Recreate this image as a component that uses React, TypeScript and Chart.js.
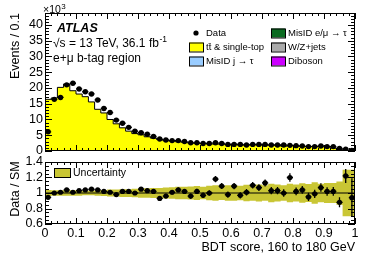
import React, { useEffect, useRef } from "react";
import { Chart, registerables } from "chart.js";

Chart.register(...registerables);

const FONT = '"Liberation Sans", Arial, Helvetica, sans-serif';

// ---------------- data ----------------
const binCenters = [
  0.01, 0.03, 0.05, 0.07, 0.09, 0.11, 0.13, 0.15, 0.17, 0.19,
  0.21, 0.23, 0.25, 0.27, 0.29, 0.31, 0.33, 0.35, 0.37, 0.39,
  0.41, 0.43, 0.45, 0.47, 0.49, 0.51, 0.53, 0.55, 0.57, 0.59,
  0.61, 0.63, 0.65, 0.67, 0.69, 0.71, 0.73, 0.75, 0.77, 0.79,
  0.81, 0.83, 0.85, 0.87, 0.89, 0.91, 0.93, 0.95, 0.97, 0.99,
];
const binWidth = 0.02;

// Events / 0.1, in units of 10^3
const dataEvents = [
  6.1, 16.4, 17.0, 21.0, 21.5, 19.7, 18.8, 18.1, 16.2, 13.5,
  12.2, 9.8, 8.8, 7.5, 6.3, 5.8, 5.3, 4.6, 3.8, 3.5,
  3.3, 3.3, 3.0, 2.6, 2.6, 2.4, 2.4, 2.6, 2.4, 2.1,
  2.1, 2.1, 1.9, 2.1, 2.1, 2.1, 1.9, 1.9, 1.9, 1.8,
  1.7, 1.6, 1.4, 1.4, 1.6, 1.4, 1.4, 0.8, 0.6, 0.15,
];

// Data / SM
const ratioValues = [
  0.944, 1.0, 1.01, 1.04, 1.01, 1.03, 1.04, 1.05, 1.04, 1.02,
  1.01, 0.98, 1.02, 1.02, 1.0, 1.05, 1.03, 1.02, 0.93, 0.96,
  1.01, 1.04, 1.02, 0.96, 1.02, 0.97, 1.0, 1.18, 1.09, 0.98,
  1.09, 0.97, 1.01, 1.1, 1.07, 1.13, 1.03, 1.03, 1.0, 1.2,
  1.02, 1.04, 0.95, 0.99, 1.07, 1.02, 1.02, 0.88, 1.22, 0.94,
];
const ratioErrors = [
  0.012, 0.012, 0.012, 0.012, 0.012, 0.012, 0.013, 0.013, 0.014, 0.015,
  0.016, 0.018, 0.019, 0.02, 0.022, 0.023, 0.024, 0.026, 0.028, 0.029,
  0.03, 0.03, 0.031, 0.033, 0.034, 0.035, 0.036, 0.04, 0.038, 0.04,
  0.04, 0.041, 0.042, 0.043, 0.044, 0.045, 0.046, 0.046, 0.047, 0.055,
  0.05, 0.05, 0.052, 0.053, 0.055, 0.055, 0.056, 0.065, 0.09, 0.25,
];
const bandHalfWidths = [
  0.04, 0.04, 0.035, 0.035, 0.035, 0.035, 0.035, 0.03, 0.03, 0.035,
  0.04, 0.045, 0.045, 0.05, 0.05, 0.055, 0.06, 0.06, 0.065, 0.065,
  0.07, 0.075, 0.08, 0.08, 0.085, 0.09, 0.08, 0.095, 0.1, 0.09,
  0.1, 0.1, 0.095, 0.105, 0.1, 0.11, 0.1, 0.12, 0.11, 0.1,
  0.12, 0.11, 0.125, 0.115, 0.14, 0.12, 0.13, 0.13, 0.15, 0.3,
];

const xTickValues = [0, 0.1, 0.2, 0.3, 0.4, 0.5, 0.6, 0.7, 0.8, 0.9, 1];
const xTickLabels = ["0", "0.1", "0.2", "0.3", "0.4", "0.5", "0.6", "0.7", "0.8", "0.9", "1"];
const mainYTickValues = [0, 5, 10, 15, 20, 25, 30, 35, 40];
const mainYTickLabels = ["0", "5", "10", "15", "20", "25", "30", "35", "40"];
const ratioYTickValues = [0.6, 0.8, 1, 1.2, 1.4];
const ratioYTickLabels = ["0.6", "0.8", "1", "1.2", "1.4"];

const legendEntries = [
  { label: "Data", kind: "marker", color: "#000000" },
  { label: "tt\u0304 & single-top", kind: "box", color: "#ffff00" },
  { label: "MisID j \u2192 \u03c4", kind: "box", color: "#99ccff" },
  { label: "MisID e/\u03bc \u2192 \u03c4", kind: "box", color: "#0b6b21" },
  { label: "W/Z+jets", kind: "box", color: "#aaaaaa" },
  { label: "Diboson", kind: "box", color: "#cc00ff" },
];
const BAND_COLOR = "#c9c634";

// ---------------- derived ----------------
const mcValues = dataEvents.map((d, i) => d / ratioValues[i]);
const stepPts = (vals: number[]) => {
  const pts = vals.map((v, i) => ({ x: binCenters[i] - binWidth / 2, y: v }));
  pts.push({ x: binCenters[vals.length - 1] + binWidth / 2, y: vals[vals.length - 1] });
  return pts;
};

// ---------------- helpers ----------------
function drawInwardTicks(chart: any, xMajor: number[], xMinorStep: number, yMajor: number[], yMinorStep: number, yMin: number, yMax: number) {
  const { ctx, chartArea, scales } = chart;
  const { left, right, top, bottom } = chartArea;
  const xs = scales.x;
  const ys = scales.y;
  ctx.save();
  ctx.strokeStyle = "#000";
  ctx.lineWidth = 1;
  ctx.beginPath();
  const nX = Math.round(1 / xMinorStep);
  for (let k = 0; k <= nX; k++) {
    const v = k * xMinorStep;
    const isMajor = xMajor.some((m) => Math.abs(m - v) < 1e-6);
    const len = isMajor ? 6 : 3;
    const px = Math.round(xs.getPixelForValue(v)) + 0.5;
    ctx.moveTo(px, bottom);
    ctx.lineTo(px, bottom - len);
    ctx.moveTo(px, top);
    ctx.lineTo(px, top + len);
  }
  const nY = Math.round((yMax - yMin) / yMinorStep);
  for (let k = 0; k <= nY; k++) {
    const v = yMin + k * yMinorStep;
    if (v > yMax + 1e-9) break;
    const isMajor = yMajor.some((m) => Math.abs(m - v) < 1e-6);
    const len = isMajor ? 7 : 4;
    const py = Math.round(ys.getPixelForValue(v)) + 0.5;
    ctx.moveTo(left, py);
    ctx.lineTo(left + len, py);
    ctx.moveTo(right, py);
    ctx.lineTo(right - len, py);
  }
  ctx.stroke();
  ctx.strokeRect(left + 0.5, top + 0.5, right - left - 1, bottom - top - 1);
  ctx.restore();
}

function drawErrorBars(chart: any, values: number[], errs: number[]) {
  const { ctx, scales } = chart;
  const xs = scales.x;
  const ys = scales.y;
  ctx.save();
  ctx.strokeStyle = "#000";
  ctx.lineWidth = 1.3;
  ctx.beginPath();
  values.forEach((v, i) => {
    const c = binCenters[i];
    const py = ys.getPixelForValue(v);
    ctx.moveTo(xs.getPixelForValue(c - binWidth / 2), py);
    ctx.lineTo(xs.getPixelForValue(c + binWidth / 2), py);
    ctx.moveTo(xs.getPixelForValue(c), ys.getPixelForValue(v - errs[i]));
    ctx.lineTo(xs.getPixelForValue(c), ys.getPixelForValue(v + errs[i]));
  });
  ctx.stroke();
  ctx.restore();
}

function textWithSup(ctx: any, main: string, sup: string, x: number, y: number, size: number, supSize: number) {
  ctx.font = `${size}px ${FONT}`;
  ctx.fillText(main, x, y);
  const w = ctx.measureText(main).width;
  ctx.font = `${supSize}px ${FONT}`;
  ctx.fillText(sup, x + w + 0.5, y - size * 0.42);
}

const mainDecor = {
  id: "mainDecor",
  afterDatasetsDraw(chart: any) {
    drawErrorBars(chart, dataEvents, dataEvents.map((d, i) => ratioErrors[i] * mcValues[i]));
  },
  afterDraw(chart: any) {
    drawInwardTicks(chart, xTickValues, 0.02, mainYTickValues, 1, 0, 43.8);
    const { ctx, chartArea } = chart;
    ctx.save();
    ctx.fillStyle = "#000";
    ctx.textBaseline = "alphabetic";
    ctx.textAlign = "left";
    // x10^3
    textWithSup(ctx, "\u00d710", "3", 43, 13, 10.5, 8);
    // ATLAS labels
    ctx.font = `bold italic 12.5px ${FONT}`;
    ctx.fillText("ATLAS", 57, 32);
    textWithSup(ctx, "\u221as = 13 TeV, 36.1 fb", "-1", 53, 47, 12, 8.5);
    ctx.font = `12px ${FONT}`;
    ctx.fillText("e+\u03bc b-tag region", 53, 62);
    // y title
    ctx.save();
    ctx.translate(19, chartArea.top);
    ctx.rotate(-Math.PI / 2);
    ctx.textAlign = "right";
    ctx.font = `12.5px ${FONT}`;
    ctx.fillText("Events / 0.1", 0, 0);
    ctx.restore();
    // legend
    const colX = [189, 271];
    const rowY = [33, 47, 61];
    ctx.font = `9.5px ${FONT}`;
    ctx.textBaseline = "middle";
    legendEntries.forEach((e, i) => {
      const cx = colX[Math.floor(i / 3)];
      const cy = rowY[i % 3];
      if (e.kind === "marker") {
        ctx.beginPath();
        ctx.fillStyle = e.color;
        ctx.arc(cx + 7, cy, 2.6, 0, Math.PI * 2);
        ctx.fill();
      } else {
        ctx.fillStyle = e.color;
        ctx.fillRect(cx, cy - 4.5, 14, 9);
        ctx.strokeStyle = "#000";
        ctx.lineWidth = 1;
        ctx.strokeRect(cx + 0.5, cy - 4.5 + 0.5, 14, 9);
      }
      ctx.fillStyle = "#000";
      ctx.fillText(e.label, cx + 17, cy + 0.5);
    });
    ctx.restore();
  },
};

const ratioDecor = {
  id: "ratioDecor",
  afterDatasetsDraw(chart: any) {
    drawErrorBars(chart, ratioValues, ratioErrors);
  },
  afterDraw(chart: any) {
    drawInwardTicks(chart, xTickValues, 0.02, ratioYTickValues, 0.05, 0.6, 1.4);
    const { ctx, chartArea } = chart;
    ctx.save();
    ctx.fillStyle = "#000";
    // y title
    ctx.save();
    ctx.translate(19, (chartArea.top + chartArea.bottom) / 2 - 4);
    ctx.rotate(-Math.PI / 2);
    ctx.textAlign = "center";
    ctx.font = `12.5px ${FONT}`;
    ctx.fillText("Data / SM", 0, 0);
    ctx.restore();
    // x title
    ctx.textAlign = "right";
    ctx.textBaseline = "alphabetic";
    ctx.font = `12.5px ${FONT}`;
    ctx.fillText("BDT score, 160 to 180 GeV", chartArea.right, 251);
    // legend
    ctx.fillStyle = BAND_COLOR;
    ctx.fillRect(54, 168, 16, 9);
    ctx.strokeStyle = "#000";
    ctx.lineWidth = 1;
    ctx.strokeRect(54.5, 168.5, 16, 9);
    ctx.fillStyle = "#000";
    ctx.textAlign = "left";
    ctx.textBaseline = "middle";
    ctx.font = `10.5px ${FONT}`;
    ctx.fillText("Uncertainty", 73, 173);
    ctx.restore();
  },
};

const tickFont = { family: FONT, size: 12.5 };

export default function App() {
  const refA = useRef<HTMLCanvasElement>(null);
  const refB = useRef<HTMLCanvasElement>(null);

  useEffect(() => {
    const mainChart = new Chart(refA.current as HTMLCanvasElement, {
      type: "line",
      data: {
        datasets: [
          {
            label: "Data",
            data: binCenters.map((x, i) => ({ x, y: dataEvents[i] })),
            showLine: false,
            pointRadius: 2.7,
            pointBackgroundColor: "#000",
            pointBorderWidth: 0,
            order: 0,
          } as any,
          {
            label: "tt & single-top",
            data: stepPts(mcValues),
            stepped: "after",
            fill: "origin",
            backgroundColor: "#ffff00",
            borderColor: "#000",
            borderWidth: 1,
            pointRadius: 0,
            order: 1,
          } as any,
        ],
      },
      options: {
        animation: false,
        responsive: false,
        events: [],
        layout: { padding: { left: 0, right: 19, top: 13, bottom: 117 } },
        plugins: { legend: { display: false }, tooltip: { enabled: false } },
        scales: {
          x: { type: "linear", min: 0, max: 1, display: false },
          y: {
            type: "linear",
            min: 0,
            max: 43.8,
            afterFit: (s: any) => {
              s.width = 45;
            },
            afterBuildTicks: (s: any) => {
              s.ticks = mainYTickValues.map((v) => ({ value: v }));
            },
            grid: { display: false, drawTicks: false },
            border: { display: false },
            ticks: {
              font: tickFont,
              color: "#000",
              padding: 2,
              autoSkip: false,
              callback: (_v: any, i: number) => mainYTickLabels[i],
            },
          },
        },
      } as any,
      plugins: [mainDecor],
    });

    const ratioChart = new Chart(refB.current as HTMLCanvasElement, {
      type: "line",
      data: {
        datasets: [
          {
            label: "Data",
            data: binCenters.map((x, i) => ({ x, y: ratioValues[i] })),
            showLine: false,
            pointRadius: 2.6,
            pointBackgroundColor: "#000",
            pointBorderWidth: 0,
            order: 0,
          } as any,
          {
            label: "one",
            data: [
              { x: 0, y: 1 },
              { x: 1, y: 1 },
            ],
            borderColor: "#000",
            borderWidth: 1,
            pointRadius: 0,
            order: 1,
          } as any,
          {
            label: "Uncertainty",
            data: stepPts(bandHalfWidths.map((b) => 1 + b)),
            stepped: "after",
            fill: "+1",
            backgroundColor: BAND_COLOR,
            borderWidth: 0,
            borderColor: "rgba(0,0,0,0)",
            pointRadius: 0,
            order: 2,
          } as any,
          {
            label: "lower",
            data: stepPts(bandHalfWidths.map((b) => 1 - b)),
            stepped: "after",
            fill: false,
            borderWidth: 0,
            borderColor: "rgba(0,0,0,0)",
            pointRadius: 0,
            order: 3,
          } as any,
        ],
      },
      options: {
        animation: false,
        responsive: false,
        events: [],
        layout: { padding: { left: 0, right: 19, top: 162, bottom: 0 } },
        plugins: { legend: { display: false }, tooltip: { enabled: false } },
        scales: {
          x: {
            type: "linear",
            min: 0,
            max: 1,
            afterFit: (s: any) => {
              s.height = 44;
            },
            afterBuildTicks: (s: any) => {
              s.ticks = xTickValues.map((v) => ({ value: v }));
            },
            grid: { display: false, drawTicks: false },
            border: { display: false },
            ticks: {
              font: tickFont,
              color: "#000",
              padding: 2,
              autoSkip: false,
              maxRotation: 0,
              callback: (_v: any, i: number) => xTickLabels[i],
            },
          },
          y: {
            type: "linear",
            min: 0.6,
            max: 1.4,
            afterFit: (s: any) => {
              s.width = 45;
            },
            afterBuildTicks: (s: any) => {
              s.ticks = ratioYTickValues.map((v) => ({ value: v }));
            },
            grid: { display: false, drawTicks: false },
            border: { display: false },
            ticks: {
              font: tickFont,
              color: "#000",
              padding: 2,
              autoSkip: false,
              callback: (_v: any, i: number) => ratioYTickLabels[i],
            },
          },
        },
      } as any,
      plugins: [ratioDecor],
    });

    return () => {
      mainChart.destroy();
      ratioChart.destroy();
    };
  }, []);

  return (
    <div style={{ position: "absolute", left: 0, top: 0, width: 374, height: 268, background: "#fff" }}>
      <canvas ref={refA} width={374} height={268} style={{ position: "absolute", left: 0, top: 0 }} />
      <canvas ref={refB} width={374} height={268} style={{ position: "absolute", left: 0, top: 0 }} />
    </div>
  );
}
